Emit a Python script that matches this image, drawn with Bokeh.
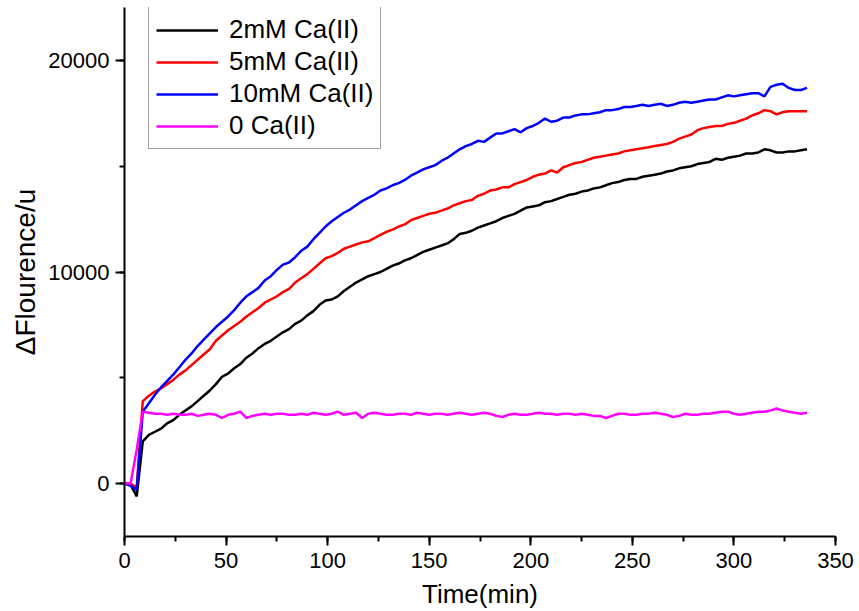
from bokeh.plotting import figure
from bokeh.models import Range1d, SingleIntervalTicker, Legend, LegendItem
from bokeh.embed import file_html
from bokeh.resources import INLINE

time_min = list(range(0, 337, 3))

ca_2mM = [0, -50, -600, 2000, 2300, 2450, 2600, 2850, 3000, 3250, 3450, 3650, 3900, 4150, 4400,
          4700, 5050, 5200, 5450, 5650, 5950, 6150, 6400, 6600, 6750, 6950, 7150, 7300, 7550, 7700,
          7950, 8150, 8450, 8650, 8700, 8850, 9100, 9300, 9500, 9650, 9800, 9900, 10000, 10150, 10300,
          10400, 10550, 10650, 10800, 10950, 11050, 11150, 11250, 11350, 11550, 11800, 11850, 11950, 12100, 12200,
          12300, 12400, 12550, 12650, 12750, 12900, 13050, 13100, 13150, 13300, 13350, 13450, 13550, 13650, 13700,
          13800, 13850, 13950, 14000, 14100, 14200, 14250, 14350, 14400, 14400, 14500, 14550, 14600, 14650, 14750,
          14800, 14900, 14950, 15000, 15100, 15150, 15200, 15350, 15300, 15400, 15450, 15500, 15600, 15600, 15650,
          15800, 15750, 15650, 15650, 15700, 15700, 15750, 15800]

ca_5mM = [0, 0, -200, 3900, 4150, 4350, 4500, 4700, 4900, 5150, 5350, 5600, 5850, 6100, 6350,
          6750, 7000, 7250, 7450, 7650, 7900, 8100, 8300, 8550, 8700, 8850, 9050, 9200, 9500, 9700,
          9900, 10150, 10400, 10650, 10750, 10900, 11100, 11200, 11300, 11400, 11450, 11600, 11750, 11900, 12000,
          12150, 12250, 12450, 12550, 12650, 12750, 12800, 12900, 13000, 13150, 13250, 13350, 13400, 13600, 13700,
          13850, 13900, 14000, 14000, 14150, 14250, 14350, 14500, 14600, 14650, 14800, 14700, 14950, 15050, 15150,
          15200, 15300, 15400, 15450, 15500, 15550, 15600, 15700, 15750, 15800, 15850, 15900, 15950, 16000, 16050,
          16150, 16300, 16400, 16500, 16700, 16800, 16850, 16900, 16900, 17000, 17050, 17150, 17250, 17400, 17500,
          17650, 17600, 17450, 17550, 17600, 17600, 17600, 17600]

ca_10mM = [0, -100, -300, 3400, 3800, 4200, 4550, 4850, 5150, 5500, 5850, 6150, 6500, 6800, 7100,
           7400, 7650, 7900, 8200, 8550, 8850, 9050, 9250, 9600, 9800, 10100, 10350, 10450, 10700, 11000,
           11200, 11550, 11850, 12150, 12400, 12600, 12800, 12950, 13150, 13350, 13500, 13650, 13850, 13950, 14100,
           14200, 14350, 14550, 14700, 14850, 14950, 15050, 15250, 15400, 15600, 15800, 15950, 16050, 16200, 16150,
           16350, 16550, 16550, 16650, 16750, 16600, 16800, 16900, 17050, 17250, 17100, 17150, 17300, 17300, 17400,
           17450, 17450, 17500, 17550, 17650, 17650, 17700, 17800, 17800, 17850, 17900, 17850, 17900, 17950, 17850,
           17900, 18000, 18050, 18000, 18050, 18100, 18150, 18150, 18250, 18350, 18300, 18350, 18400, 18450, 18450,
           18300, 18750, 18850, 18900, 18700, 18600, 18600, 18700]

ca_0 = [0, 0, 1600, 3400, 3350, 3300, 3300, 3250, 3300, 3250, 3250, 3300, 3200, 3250, 3300,
        3250, 3100, 3250, 3300, 3400, 3100, 3200, 3250, 3300, 3250, 3300, 3300, 3250, 3250, 3300,
        3250, 3350, 3300, 3250, 3300, 3400, 3250, 3300, 3350, 3100, 3300, 3350, 3300, 3250, 3250,
        3300, 3300, 3250, 3350, 3300, 3250, 3300, 3300, 3250, 3300, 3350, 3300, 3250, 3300, 3350,
        3300, 3200, 3150, 3250, 3300, 3250, 3250, 3300, 3350, 3300, 3300, 3250, 3300, 3300, 3250,
        3300, 3250, 3200, 3200, 3100, 3200, 3300, 3300, 3250, 3250, 3300, 3300, 3350, 3300, 3250,
        3150, 3200, 3300, 3250, 3250, 3300, 3300, 3350, 3400, 3400, 3300, 3250, 3300, 3350, 3400,
        3400, 3450, 3550, 3450, 3400, 3350, 3300, 3350]

series_labels = ["2mM Ca(II)", "5mM Ca(II)", "10mM Ca(II)", "0 Ca(II)"]
series_colors = ["#000000", "#ff0000", "#0000ff", "#ff00ff"]
series_values = [ca_2mM, ca_5mM, ca_10mM, ca_0]

FONT = "Liberation Sans"

p = figure(width=855, height=611, output_backend="svg", toolbar_location=None,
           x_range=Range1d(0, 350), y_range=Range1d(-2500, 22500),
           min_border_left=124, min_border_right=20, min_border_top=7, min_border_bottom=75)
p.outline_line_color = None
p.xgrid.grid_line_color = None
p.ygrid.grid_line_color = None
p.background_fill_color = "white"
p.border_fill_color = "white"

items = []
for lab, col, vals in zip(series_labels, series_colors, series_values):
    r = p.line(time_min, vals, line_color=col, line_width=2.5)
    items.append(LegendItem(label=lab, renderers=[r]))

p.xaxis.ticker = SingleIntervalTicker(interval=50, num_minor_ticks=2)
p.yaxis.ticker = SingleIntervalTicker(interval=10000, num_minor_ticks=2)
p.xaxis.axis_label = "Time(min)"
p.yaxis.axis_label = "\u0394Flourence/u"

for ax in (p.xaxis[0], p.yaxis[0]):
    ax.axis_line_width = 2
    ax.axis_line_color = "black"
    ax.major_tick_line_color = "black"
    ax.minor_tick_line_color = "black"
    ax.major_tick_line_width = 2
    ax.minor_tick_line_width = 2
    ax.major_tick_in = 0
    ax.major_tick_out = 9
    ax.minor_tick_in = 0
    ax.minor_tick_out = 5
    ax.major_label_text_font = FONT
    ax.major_label_text_font_size = "22px"
    ax.major_label_text_color = "black"
    ax.axis_label_text_font = FONT
    ax.axis_label_text_font_style = "normal"
    ax.axis_label_text_color = "black"

p.xaxis.axis_label_text_font_size = "26px"
p.yaxis.axis_label_text_font_size = "28px"
p.xaxis.major_label_standoff = 7
p.yaxis.major_label_standoff = 6
p.xaxis.axis_label_standoff = 8
p.yaxis.axis_label_standoff = 4

legend = Legend(items=items, location=(24, 387))
legend.label_text_font = FONT
legend.label_text_font_size = "26px"
legend.label_text_color = "black"
legend.glyph_width = 62
legend.glyph_height = 20
legend.label_height = 20
legend.spacing = 1
legend.padding = 7
legend.margin = 0
legend.label_standoff = 11
legend.border_line_color = "#444444"
legend.border_line_width = 1
legend.background_fill_alpha = 1
p.add_layout(legend)

open("out.html", "w").write(file_html(p, INLINE))
